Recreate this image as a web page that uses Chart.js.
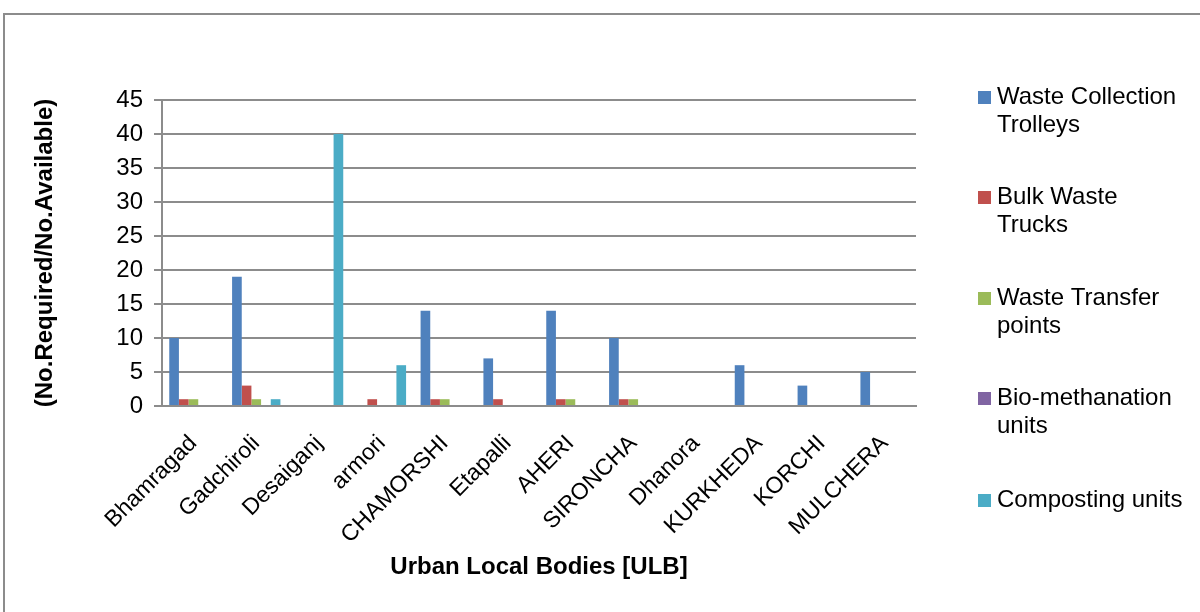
<!DOCTYPE html>
<html>
<head>
<meta charset="utf-8">
<script src="https://cdn.jsdelivr.net/npm/chart.js@4/dist/chart.umd.min.js"></script>
<style>
  html, body { margin: 0; padding: 0; background: #fff; }
  #wrap { position: relative; width: 1200px; height: 612px; overflow: hidden; }
  #frame { position: absolute; left: 3px; top: 13px; width: 1300px; height: 700px;
           border-left: 2px solid #8c8c8c; border-top: 2px solid #8c8c8c; box-sizing: border-box; }
  canvas { position: absolute; left: 0; top: 0; }
</style>
</head>
<body>
<div id="wrap">
  <div id="frame"></div>
  <canvas id="c" width="1200" height="612"></canvas>
</div>
<script>
const categories = ["Bhamragad", "Gadchiroli", "Desaiganj", "armori", "CHAMORSHI", "Etapalli", "AHERI", "SIRONCHA", "Dhanora", "KURKHEDA", "KORCHI", "MULCHERA"];
const seriesNames = ["Waste Collection Trolleys", "Bulk Waste Trucks", "Waste Transfer points", "Bio-methanation units", "Composting units"];
const legendLines = [["Waste Collection", "Trolleys"], ["Bulk Waste", "Trucks"], ["Waste Transfer", "points"], ["Bio-methanation", "units"], ["Composting units"]];
const wasteCollectionTrolleys = [10, 19, 0, 0, 14, 7, 14, 10, 0, 6, 3, 5];
const bulkWasteTrucks         = [1, 3, 0, 1, 1, 1, 1, 1, 0, 0, 0, 0];
const wasteTransferPoints     = [1, 1, 0, 0, 1, 0, 1, 1, 0, 0, 0, 0];
const bioMethanationUnits     = [0, 0, 0, 0, 0, 0, 0, 0, 0, 0, 0, 0];
const compostingUnits         = [0, 1, 40, 6, 0, 0, 0, 0, 0, 0, 0, 0];
const yTicks = [0, 5, 10, 15, 20, 25, 30, 35, 40, 45];
const colors = ["#4F81BD", "#C0504D", "#9BBB59", "#8064A2", "#4BACC6"];
const xTitle = "Urban Local Bodies [ULB]";
const yTitle = "(No.Required/No.Available)";

const seriesValues = [wasteCollectionTrolleys, bulkWasteTrucks, wasteTransferPoints, bioMethanationUnits, compostingUnits];
const FONT = "'Liberation Sans', Arial, sans-serif";

const legendPlugin = {
  id: 'sideLegend',
  afterDraw(chart) {
    const ctx = chart.ctx;
    const firstY = [97, 197, 298, 398, 500];
    ctx.save();
    ctx.font = "24px " + FONT;
    ctx.textBaseline = 'middle';
    ctx.textAlign = 'left';
    chart.data.datasets.forEach((ds, i) => {
      const y = firstY[i];
      ctx.fillStyle = ds.backgroundColor;
      ctx.fillRect(978, y - 6, 13, 13);
      ctx.fillStyle = '#000';
      legendLines[i].forEach((line, j) => {
        ctx.fillText(line, 997, y + j * 28);
      });
    });
    ctx.restore();
  }
};

new Chart(document.getElementById('c'), {
  type: 'bar',
  data: {
    labels: categories,
    datasets: seriesNames.map((name, i) => ({
      label: name,
      data: seriesValues[i],
      backgroundColor: colors[i],
      borderWidth: 0,
      categoryPercentage: 5 / 6.5,
      barPercentage: 1.0
    }))
  },
  options: {
    responsive: false,
    animation: false,
    devicePixelRatio: 1,
    layout: { padding: { left: 0, right: 284, top: 100, bottom: 0 } },
    plugins: { legend: { display: false }, tooltip: { enabled: false } },
    scales: {
      x: {
        afterFit(scale) { scale.height = 206; },
        grid: { display: false, drawTicks: false, tickLength: 0 },
        border: { display: true, color: '#8c8c8c', width: 2 },
        ticks: {
          autoSkip: false, maxRotation: 45, minRotation: 45, padding: 24,
          color: '#000', font: { family: FONT, size: 23 }
        },
        title: {
          display: true, text: xTitle, color: '#000',
          font: { family: FONT, size: 24, weight: 'bold' },
          padding: { top: 0, bottom: 30 }
        }
      },
      y: {
        afterFit(scale) { scale.width = 162; },
        min: 0, max: 45,
        afterBuildTicks(scale) { scale.ticks = yTicks.map(v => ({ value: v })); },
        grid: { color: '#8c8c8c', lineWidth: 2, drawTicks: true, tickLength: 8 },
        border: { display: true, color: '#8c8c8c', width: 2 },
        ticks: { padding: 11, color: '#000', font: { family: FONT, size: 24 } },
        title: {
          display: true, text: yTitle, color: '#000',
          font: { family: FONT, size: 24, weight: 'bold' },
          padding: { top: 31, bottom: 0 }
        }
      }
    }
  },
  plugins: [legendPlugin]
});
</script>
</body>
</html>
